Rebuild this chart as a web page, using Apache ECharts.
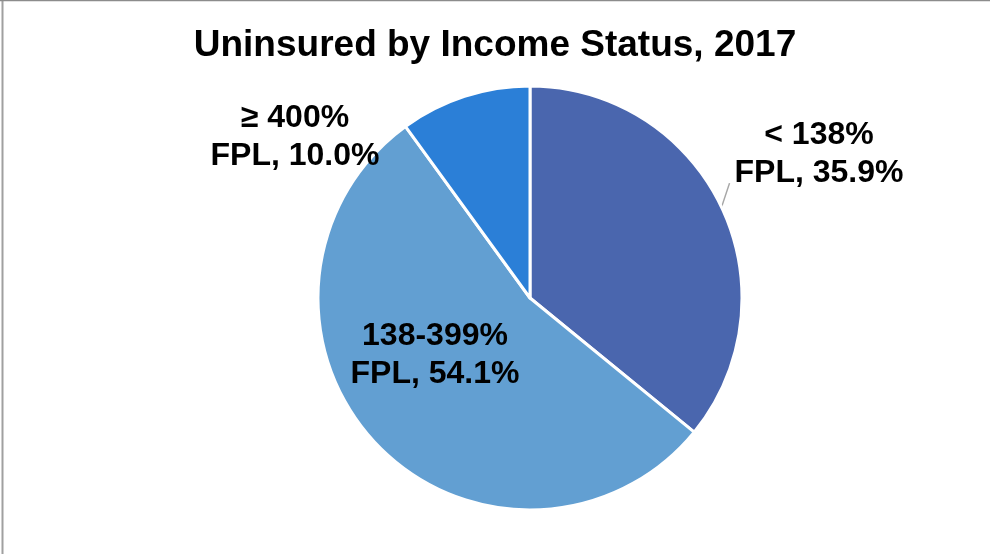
<!DOCTYPE html>
<html>
<head>
<meta charset="utf-8">
<script src="https://cdn.jsdelivr.net/npm/echarts@6/dist/echarts.min.js"></script>
<style>
  html, body { margin: 0; padding: 0; background: #fff; }
  #chart { width: 990px; height: 554px; }
</style>
</head>
<body>
<div id="chart"></div>
<script>
var categories = ['< 138%\nFPL', '138-399%\nFPL', '≥ 400%\nFPL'];
var shares = [35.9, 54.1, 10.0];
var colors = ['#4a66ae', '#629fd2', '#2b7fd7'];

// where each label sits (centre of the text block)
var labelSpots = [[819, 154], [435, 355], [295, 137]];

var myChart = echarts.init(document.getElementById('chart'));

var pieData = [];
for (var i = 0; i < categories.length; i++) {
  pieData.push({
    name: categories[i],
    value: shares[i],
    itemStyle: { color: colors[i] },
    label: { position: i == 1 ? 'inside' : 'outside' },
    labelLine: { show: i == 0 }
  });
}

var option = {
  backgroundColor: '#fff',
  title: {
    text: 'Uninsured by Income Status, 2017',
    left: 'center',
    top: 22,
    textStyle: {
      fontFamily: 'Liberation Sans, Arial, sans-serif',
      fontWeight: 'bold',
      fontSize: 37,
      color: '#000'
    }
  },
  graphic: [
    { type: 'line', shape: { x1: 2.5, y1: 0, x2: 2.5, y2: 554 }, style: { stroke: '#a0a0a0', lineWidth: 2 } },
    { type: 'line', shape: { x1: 0, y1: 0.5, x2: 990, y2: 0.5 }, style: { stroke: '#8c8c8c', lineWidth: 1.5 } }
  ],
  series: [{
    type: 'pie',
    center: [530, 298],
    radius: 212,
    startAngle: 90,
    clockwise: true,
    animation: false,
    itemStyle: { borderColor: '#fff', borderWidth: 3 },
    label: {
      formatter: function (p) { return p.name + ', ' + p.value.toFixed(1) + '%'; },
      fontFamily: 'Liberation Sans, Arial, sans-serif',
      fontWeight: 'bold',
      fontSize: 32,
      lineHeight: 38,
      color: '#000',
      align: 'center'
    },
    labelLine: {
      length: 8,
      length2: 0,
      lineStyle: { color: '#a6a6a6', width: 1.5 }
    },
    labelLayout: function (params) {
      var s = labelSpots[params.dataIndex];
      var res = { x: s[0], y: s[1], align: 'center', verticalAlign: 'middle' };
      // short leader going up from the slice edge, like the original
      var lp = params.labelLinePoints;
      if (lp && lp.length) {
        res.labelLinePoints = [lp[0], [lp[0][0] + 8, lp[0][1] - 24]];
      }
      return res;
    },
    data: pieData
  }]
};

myChart.setOption(option);
</script>
</body>
</html>
